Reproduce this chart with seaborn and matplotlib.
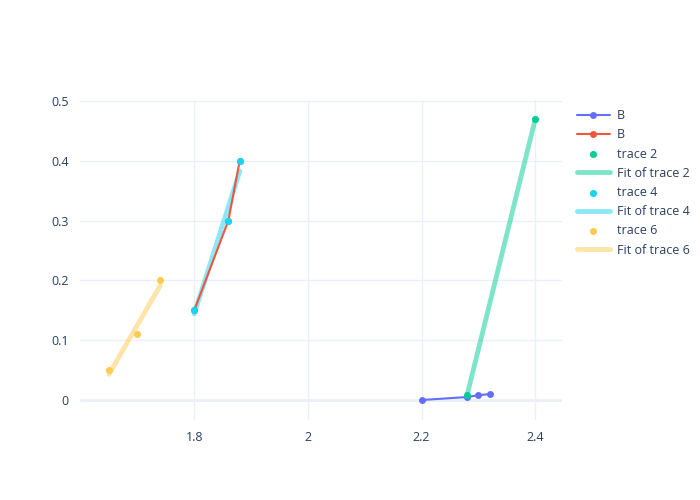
import numpy as np
import pandas as pd
import matplotlib
matplotlib.use("Agg")
import matplotlib.pyplot as plt
import seaborn as sns

# data
b_blue_x = [2.2, 2.28, 2.3, 2.32]
b_blue_y = [0.0, 0.005, 0.008, 0.01]
b_red_x = [1.8, 1.86, 1.88]
b_red_y = [0.15, 0.3, 0.4]
trace2_x = [2.28, 2.4]
trace2_y = [0.008, 0.47]
trace4_x = [1.8, 1.86, 1.88]
trace4_y = [0.15, 0.3, 0.4]
trace6_x = [1.65, 1.7, 1.74]
trace6_y = [0.05, 0.11, 0.2]

x_ticks = [1.8, 2.0, 2.2, 2.4]
x_tick_labels = ["1.8", "2", "2.2", "2.4"]
y_ticks = [0, 0.1, 0.2, 0.3, 0.4, 0.5]
y_tick_labels = ["0", "0.1", "0.2", "0.3", "0.4", "0.5"]

sns.set_style("white")
plt.rcParams["font.family"] = ["Open Sans", "DejaVu Sans"]
text_color = "#2a3f5f"
grid_color = "#ebf0f8"

fig = plt.figure(figsize=(7, 5), dpi=100)
ax = fig.add_axes([80 / 700, 80 / 500, 482 / 700, 320 / 500])


def fit_df(xs, ys):
    slope, icpt = np.polyfit(xs, ys, 1)
    xx = np.array([min(xs), max(xs)])
    return pd.DataFrame({"x": xx, "y": slope * xx + icpt})


line_kw = dict(linewidth=1.5, marker="o", markersize=5, markeredgewidth=0)
sns.lineplot(x=b_blue_x, y=b_blue_y, ax=ax, color="#636efa", label="B",
             sort=False, zorder=3, **line_kw)
sns.lineplot(x=b_red_x, y=b_red_y, ax=ax, color="#ef553b", label="B",
             sort=False, zorder=3, **line_kw)

series = [
    ("trace 2", trace2_x, trace2_y, "#00cc96"),
    ("trace 4", trace4_x, trace4_y, "#19d3f3"),
    ("trace 6", trace6_x, trace6_y, "#fecb52"),
]
for name, xs, ys, col in series:
    sns.scatterplot(x=xs, y=ys, ax=ax, color=col, s=26, linewidth=0,
                    label=name, zorder=5)
    f = fit_df(xs, ys)
    sns.lineplot(data=f, x="x", y="y", ax=ax, color=col, alpha=0.5,
                 linewidth=3.5, label="Fit of " + name, zorder=2)

ax.set_xlim(1.599, 2.447)
ax.set_ylim(-0.0334, 0.5017)
ax.set_xticks(x_ticks)
ax.set_xticklabels(x_tick_labels)
ax.set_yticks(y_ticks)
ax.set_yticklabels(y_tick_labels)
ax.grid(True, color=grid_color, linewidth=1, zorder=0)
ax.axhline(0, color=grid_color, linewidth=2, zorder=1)
ax.set_axisbelow(True)
for s in ax.spines.values():
    s.set_visible(False)
ax.tick_params(axis="both", length=0, labelsize=9, colors=text_color, pad=8)
ax.set_xlabel("")
ax.set_ylabel("")

handles, labels = ax.get_legend_handles_labels()
ax.legend_.remove()
leg = fig.legend(handles, labels, loc="upper left",
                 bbox_to_anchor=(572 / 700, 1 - 104 / 500),
                 frameon=False, fontsize=9, labelcolor=text_color,
                 handlelength=2.6, handletextpad=0.6, labelspacing=0.5,
                 borderaxespad=0)

fig.savefig("out.png", dpi=100)
